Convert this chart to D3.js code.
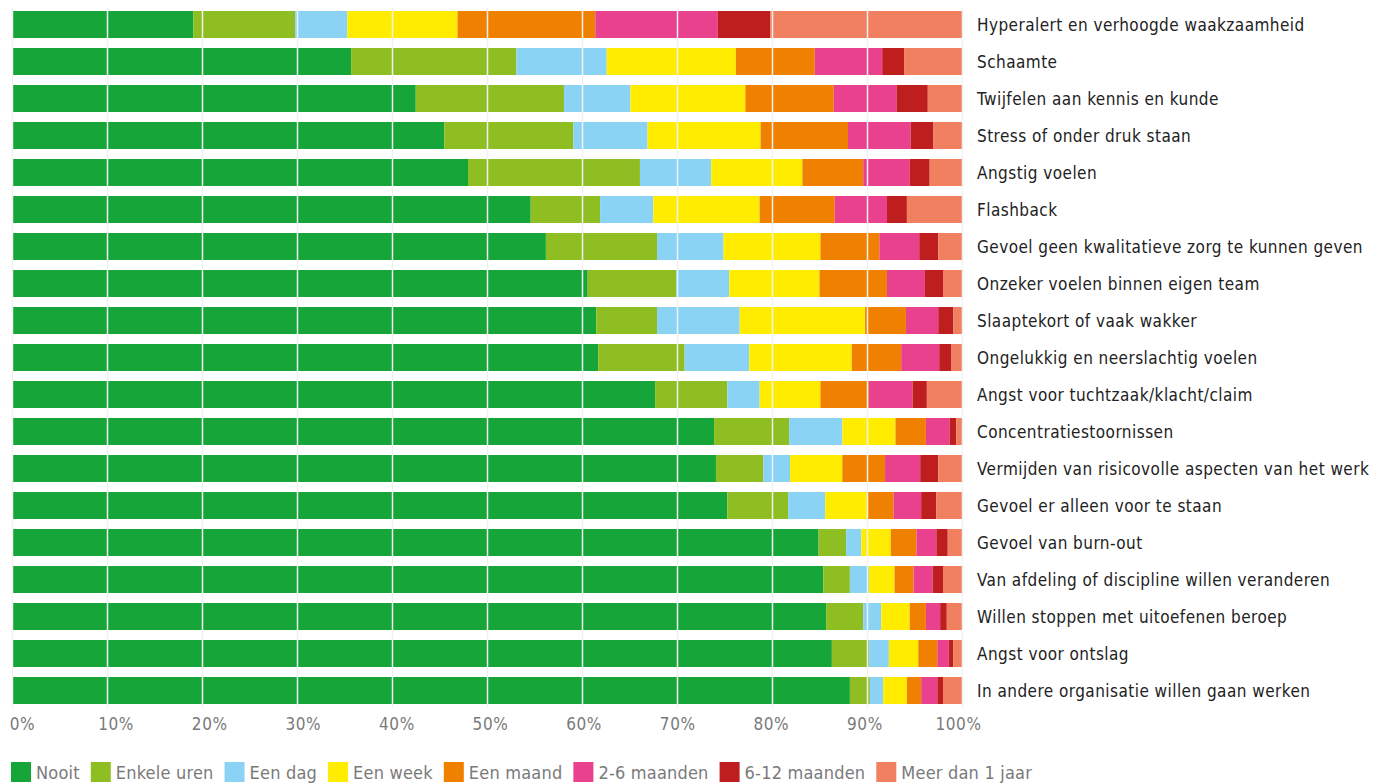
<!DOCTYPE html>
<html>
<head>
<meta charset="utf-8">
<script src="https://cdn.jsdelivr.net/npm/d3@7"></script>
<style>
  body { margin: 0; background: #fff; }
  svg { display: block; font-family: "DejaVu Sans Condensed", "DejaVu Sans", sans-serif; }
</style>
</head>
<body>
<div id="chart"></div>
<script>
const categories = [
  "Hyperalert en verhoogde waakzaamheid",
  "Schaamte",
  "Twijfelen aan kennis en kunde",
  "Stress of onder druk staan",
  "Angstig voelen",
  "Flashback",
  "Gevoel geen kwalitatieve zorg te kunnen geven",
  "Onzeker voelen binnen eigen team",
  "Slaaptekort of vaak wakker",
  "Ongelukkig en neerslachtig voelen",
  "Angst voor tuchtzaak/klacht/claim",
  "Concentratiestoornissen",
  "Vermijden van risicovolle aspecten van het werk",
  "Gevoel er alleen voor te staan",
  "Gevoel van burn-out",
  "Van afdeling of discipline willen veranderen",
  "Willen stoppen met uitoefenen beroep",
  "Angst voor ontslag",
  "In andere organisatie willen gaan werken"
];

const seriesNames = ["Nooit", "Enkele uren", "Een dag", "Een week", "Een maand", "2-6 maanden", "6-12 maanden", "Meer dan 1 jaar"];

// one array per series, in the order of categories (percent)
const nooit       = [19.1, 35.7, 42.5, 45.5, 48.0, 54.6, 56.2, 60.6, 61.5, 61.7, 67.7, 73.9, 74.1, 75.3, 84.9, 85.4, 85.7, 86.3, 88.2];
const enkeleUren  = [10.7, 17.4, 15.6, 13.6, 18.1, 7.3, 11.7, 9.3, 6.4, 9.1, 7.6, 7.9, 5.0, 6.4, 2.9, 2.8, 3.9, 3.9, 2.1];
const eenDag      = [5.5, 9.5, 7.0, 7.8, 7.5, 5.6, 7.0, 5.6, 8.7, 6.8, 3.4, 5.6, 2.8, 3.9, 1.6, 2.0, 1.9, 2.1, 1.4];
const eenWeek     = [11.6, 13.6, 12.1, 11.9, 9.6, 11.2, 10.2, 9.5, 13.2, 10.8, 6.4, 5.6, 5.5, 4.4, 3.1, 2.7, 3.0, 3.1, 2.5];
const eenMaand    = [14.5, 8.3, 9.3, 9.2, 6.4, 7.9, 6.2, 7.1, 4.3, 5.2, 5.1, 3.2, 4.5, 2.8, 2.7, 2.0, 1.7, 2.0, 1.5];
const maanden2_6  = [12.9, 7.1, 6.6, 6.6, 4.9, 5.5, 4.2, 4.0, 3.4, 4.0, 4.6, 2.5, 3.7, 2.9, 2.1, 2.0, 1.5, 1.2, 1.7];
const maanden6_12 = [5.5, 2.3, 3.3, 2.4, 2.1, 2.1, 2.0, 1.9, 1.6, 1.3, 1.5, 0.7, 1.9, 1.6, 1.2, 1.1, 0.7, 0.5, 0.6];
const meerDan1    = [20.2, 6.1, 3.6, 3.0, 3.4, 5.8, 2.5, 2.0, 0.9, 1.1, 3.7, 0.6, 2.5, 2.7, 1.5, 2.0, 1.6, 0.9, 2.0];

const xTicks = [0, 10, 20, 30, 40, 50, 60, 70, 80, 90, 100];

const colors = ["#15a538", "#8fbe22", "#8bd3f5", "#ffec00", "#f08000", "#e9418e", "#be1e1e", "#f08060"];

const seriesValues = [nooit, enkeleUren, eenDag, eenWeek, eenMaand, maanden2_6, maanden6_12, meerDan1];

const W = 1375, H = 783;

const rows = categories.map((c, i) => {
  const r = { cat: c };
  seriesNames.forEach((s, j) => r[s] = seriesValues[j][i]);
  return r;
});

const stacked = d3.stack().keys(seriesNames)(rows);

const svg = d3.select("#chart").append("svg")
  .attr("width", W)
  .attr("height", H);

const x = d3.scaleLinear().domain([0, 100]).range([12, 962]);

const y = d3.scaleBand()
  .domain(categories)
  .range([6, 709])
  .paddingInner(10 / 37)
  .paddingOuter(5 / 37);

const color = d3.scaleOrdinal().domain(seriesNames).range(colors);

// bars
svg.append("g")
  .selectAll("g")
  .data(stacked)
  .join("g")
    .attr("fill", d => color(d.key))
  .selectAll("rect")
  .data(d => d)
  .join("rect")
    .attr("x", d => x(d[0]))
    .attr("y", d => y(d.data.cat))
    .attr("width", d => x(Math.min(d[1], 100)) - x(d[0]))
    .attr("height", y.bandwidth());

// light grid lines over the bars
svg.append("g")
  .selectAll("line")
  .data(xTicks)
  .join("line")
    .attr("x1", d => x(d) + 0.5)
    .attr("x2", d => x(d) + 0.5)
    .attr("y1", 8)
    .attr("y2", 708)
    .attr("stroke", "#f1f1f1")
    .attr("stroke-width", 1.5);

// category labels on the right
svg.append("g")
  .selectAll("text")
  .data(categories)
  .join("text")
    .attr("x", 977)
    .attr("y", d => y(d) + y.bandwidth() / 2)
    .attr("dominant-baseline", "central")
    .attr("font-size", 17)
    .attr("letter-spacing", 0.45)
    .attr("fill", "#222")
    .text(d => d);

// tick labels (spread slightly wider than the bars, as in the source)
const labelScale = d3.scaleLinear().domain([0, 100]).range([22, 958]);
const xAxis = svg.append("g")
  .attr("transform", "translate(0, 724)")
  .call(d3.axisBottom(labelScale).tickValues(xTicks).tickSize(0).tickFormat(d => d + "%"));
xAxis.select(".domain").remove();
xAxis.selectAll("text")
  .attr("y", 0)
  .attr("dy", null)
  .attr("dominant-baseline", "central")
  .attr("font-family", "DejaVu Sans Condensed, DejaVu Sans, sans-serif")
  .attr("font-size", 17)
  .attr("letter-spacing", 0.6)
  .attr("fill", "#7a7a7a");

// legend
const legend = svg.append("g").attr("transform", "translate(0, 772)");
let lx = 11;
seriesNames.forEach((s, i) => {
  const g = legend.append("g").attr("transform", `translate(${lx}, 0)`);
  g.append("rect")
    .attr("x", 0)
    .attr("y", -10)
    .attr("width", 20)
    .attr("height", 20)
    .attr("fill", colors[i]);
  const t = g.append("text")
    .attr("x", 25)
    .attr("y", 0)
    .attr("dominant-baseline", "central")
    .attr("font-size", 18)
    .attr("letter-spacing", 0.2)
    .attr("fill", "#7a7a7a")
    .text(s);
  lx += 25 + t.node().getComputedTextLength() + 11;
});
</script>
</body>
</html>
